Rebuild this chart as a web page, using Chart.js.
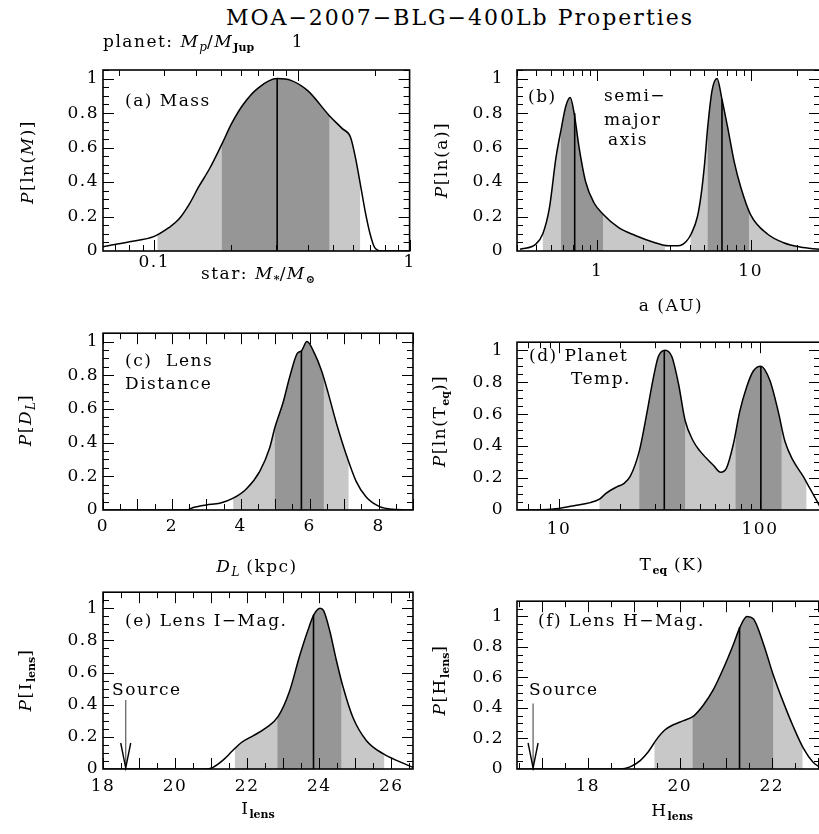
<!DOCTYPE html>
<html>
<head>
<meta charset="utf-8">
<title>MOA-2007-BLG-400Lb Properties</title>
<script src="https://cdn.jsdelivr.net/npm/chart.js@4.4.1/dist/chart.umd.min.js"></script>
<style>
  body { margin: 0; width: 819px; height: 834px; overflow: hidden; background: #fff; position: relative; font-family: 'DejaVu Serif', serif; }
  canvas { position: absolute; }
  .lbl { position: absolute; font-size: 17px; line-height: 1; white-space: pre; letter-spacing: 1.5px; color: #000; }
  .lbl sub { font-size: 11px; font-weight: bold; vertical-align: -4px; letter-spacing: 0; }
  .lbl sub.it { font-style: italic; font-weight: normal; font-size: 12px; }
  .title { font-size: 22px; letter-spacing: 2px; }
</style>
</head>
<body>
<canvas id="mass" width="416" height="260" style="left:0;top:30px"></canvas>
<canvas id="semi" width="409" height="260" style="left:412px;top:30px"></canvas>
<canvas id="dist" width="416" height="241" style="left:0;top:319px"></canvas>
<canvas id="temp" width="409" height="241" style="left:412px;top:319px"></canvas>
<canvas id="magI" width="416" height="256" style="left:0;top:578px"></canvas>
<canvas id="magH" width="409" height="256" style="left:412px;top:578px"></canvas>
<script>
'use strict';

// (a) lens star mass in solar masses
let massX = [0.063, 0.08, 0.1, 0.114, 0.125, 0.137, 0.149, 0.165, 0.184, 0.201, 0.223, 0.255, 0.303, 0.343, 0.399, 0.485, 0.545, 0.587, 0.614, 0.641, 0.67, 0.70, 0.73, 0.778, 1.0];
let massY = [0.025, 0.054, 0.085, 0.135, 0.185, 0.27, 0.37, 0.48, 0.62, 0.74, 0.85, 0.945, 1.0, 0.99, 0.93, 0.785, 0.71, 0.66, 0.54, 0.39, 0.23, 0.1, 0.02, 0, 0];
let massLight = [[0.103, 0.64]];
let massDark = [[0.184, 0.485]];
let massMedian = [[0.303, 1.0]];
let massTicks = [0.1, 1];
let planetPerStar = 2.74; // M_p/M_Jup for one solar mass of host
let planetTicks = [1];

// (b) semi-major axis in AU
let semiX = [0.314, 0.398, 0.442, 0.488, 0.538, 0.58, 0.624, 0.667, 0.707, 0.762, 0.841, 0.952, 1.10, 1.38, 1.77, 2.38, 2.9, 3.37, 3.8, 4.1, 4.5, 4.76, 5.0, 5.25, 5.6, 6.04, 6.5, 7.07, 7.8, 8.62, 10, 12.8, 16.4, 21, 28];
let semiY = [0.01, 0.04, 0.1, 0.25, 0.54, 0.7, 0.84, 0.89, 0.8, 0.6, 0.4, 0.28, 0.21, 0.135, 0.09, 0.048, 0.03, 0.03, 0.055, 0.1, 0.2, 0.33, 0.5, 0.72, 0.93, 1.0, 0.88, 0.72, 0.52, 0.37, 0.21, 0.1, 0.048, 0.023, 0.01];
let semiLight = [[0.442, 2.76], [4.06, 20]];
let semiDark = [[0.58, 1.09], [5.25, 9.75]];
let semiMedian = [[0.713, 0.8], [6.5, 0.88]];
let semiTicks = [1, 10];

// (c) lens distance in kpc
let distX = [0, 2.42, 2.62, 3.0, 3.39, 3.78, 4.16, 4.55, 4.84, 4.99, 5.23, 5.42, 5.64, 5.76, 5.92, 6.14, 6.34, 6.53, 6.77, 7.06, 7.35, 7.64, 8.03, 8.41, 9];
let distY = [0, 0, 0.015, 0.03, 0.04, 0.07, 0.125, 0.23, 0.37, 0.49, 0.64, 0.79, 0.93, 0.945, 1.0, 0.93, 0.83, 0.70, 0.52, 0.33, 0.17, 0.077, 0.02, 0.004, 0];
let distLight = [[3.78, 7.13]];
let distDark = [[4.99, 6.41]];
let distMedian = [[5.76, 0.945]];
let distTicks = [0, 2, 4, 6, 8];

// (d) planet equilibrium temperature in K
let tempX = [6.2, 8.04, 10, 12.2, 14.3, 15.9, 17.2, 19.4, 20.9, 22.6, 25.1, 27.3, 29.5, 31.2, 33.7, 36.4, 39.3, 42.4, 46.6, 50.2, 58.6, 63.7, 68, 73.6, 79.4, 85.8, 92.6, 101, 112, 123, 133, 146, 164, 177, 199];
let tempY = [0, 0.002, 0.01, 0.03, 0.046, 0.068, 0.106, 0.145, 0.164, 0.21, 0.37, 0.6, 0.83, 0.96, 1.0, 0.96, 0.79, 0.56, 0.43, 0.37, 0.28, 0.236, 0.26, 0.41, 0.62, 0.77, 0.87, 0.9, 0.81, 0.62, 0.43, 0.31, 0.21, 0.135, 0.02];
let tempLight = [[15.9, 170]];
let tempDark = [[25.1, 42.4], [75.6, 128]];
let tempMedian = [[33.4, 1.0], [101, 0.9]];
let tempTicks = [10, 100];

// (e) lens I magnitude
let magIX = [18, 20.82, 21.05, 21.33, 21.6, 21.84, 22.16, 22.53, 22.86, 23.17, 23.45, 23.68, 23.85, 24.02, 24.12, 24.29, 24.47, 24.66, 24.94, 25.31, 25.77, 26.24, 26.6];
let magIY = [0, 0, 0.01, 0.055, 0.115, 0.165, 0.206, 0.257, 0.327, 0.48, 0.70, 0.86, 0.96, 1.0, 0.985, 0.86, 0.68, 0.51, 0.317, 0.176, 0.095, 0.044, 0.01];
let magILight = [[21.66, 25.8]];
let magIDark = [[22.84, 24.61]];
let magIMedian = [[23.84, 0.96]];
let magITicks = [18, 20, 22, 24, 26];
let sourceI = [18.63, 0.43];

// (f) lens H magnitude
let magHX = [16.4, 18.7, 18.92, 19.14, 19.32, 19.5, 19.68, 19.86, 20.08, 20.3, 20.51, 20.73, 20.95, 21.17, 21.31, 21.46, 21.6, 21.82, 22.03, 22.25, 22.47, 22.69, 22.9, 23.05];
let magHY = [0, 0, 0.014, 0.055, 0.115, 0.196, 0.257, 0.29, 0.317, 0.347, 0.418, 0.52, 0.66, 0.82, 0.93, 1.0, 0.985, 0.82, 0.62, 0.44, 0.277, 0.135, 0.044, 0.01];
let magHLight = [[19.45, 22.67]];
let magHDark = [[20.28, 22.03]];
let magHMedian = [[21.3, 0.93]];
let magHTicks = [18, 20, 22];
let sourceH = [16.81, 0.43];

let yTicks = [0, 0.2, 0.4, 0.6, 0.8, 1];

let lightGray = '#c8c8c8';
let darkGray = '#969696';
let serif = "'DejaVu Serif', serif";

Chart.defaults.font.family = serif;
Chart.defaults.font.size = 17;
Chart.defaults.color = '#000';

// tick marks for a log axis (decades long, 2..9 short) or a linear one [major, minor]
function tickList(min, max, step) {
  let out = [];
  if (step === 'log') {
    for (let d = Math.floor(Math.log10(min)); d <= Math.ceil(Math.log10(max)); d++) {
      for (let n = 1; n <= 9; n++) {
        let v = n * Math.pow(10, d);
        if (v >= min * 0.9999 && v <= max * 1.0001) out.push({ v: v, len: n === 1 ? 11 : 6 });
      }
    }
  } else {
    let ratio = Math.round(step[0] / step[1]);
    for (let k = Math.ceil(min / step[1] - 1e-9); k * step[1] <= max + 1e-9; k++) {
      out.push({ v: k * step[1], len: k % ratio === 0 ? 11 : 6 });
    }
  }
  return out;
}

function panelPlugin(p) {
  return {
    id: 'panel',
    beforeDraw(chart) {
      // the original lettering is set wide
      chart.ctx.letterSpacing = '1.5px';
    },
    beforeDatasetsDraw(chart) {
      let ctx = chart.ctx;
      let area = chart.chartArea;
      let xs = chart.scales.x;
      let ys = chart.scales.y;
      let meta = chart.getDatasetMeta(0);
      let line = meta.dataset;
      let pts = meta.data;
      let base = ys.getPixelForValue(0);
      line.updateControlPoints(area, 'x');

      let shade = function (bands, color) {
        bands.forEach(b => {
          let x0 = xs.getPixelForValue(b[0]);
          let x1 = xs.getPixelForValue(b[1]);
          ctx.save();
          ctx.beginPath();
          ctx.rect(x0, area.top, x1 - x0, area.bottom - area.top);
          ctx.clip();
          ctx.beginPath();
          line.path(ctx);
          ctx.lineTo(pts[pts.length - 1].x, base);
          ctx.lineTo(pts[0].x, base);
          ctx.closePath();
          ctx.fillStyle = color;
          ctx.fill();
          ctx.restore();
        });
      };
      shade(p.light, lightGray);
      shade(p.dark, darkGray);
    },
    afterDraw(chart) {
      let ctx = chart.ctx;
      let a = chart.chartArea;
      let xs = chart.scales.x;
      let ys = chart.scales.y;
      ctx.save();
      ctx.strokeStyle = '#000';
      ctx.lineWidth = 1;
      ctx.beginPath();
      for (let k = 1; k * 0.05 <= ys.max + 1e-9; k++) {
        let py = Math.round(ys.getPixelForValue(k * 0.05)) + 0.5;
        let len = k % 4 === 0 ? 11 : 6;
        ctx.moveTo(a.left, py);
        ctx.lineTo(a.left + len, py);
        ctx.moveTo(a.right, py);
        ctx.lineTo(a.right - len, py);
      }
      tickList(xs.min, xs.max, p.step).forEach(t => {
        let px = Math.round(xs.getPixelForValue(t.v)) + 0.5;
        ctx.moveTo(px, a.bottom);
        ctx.lineTo(px, a.bottom - t.len);
        if (!p.planet) {
          ctx.moveTo(px, a.top);
          ctx.lineTo(px, a.top + t.len);
        }
      });
      if (p.planet) {
        tickList(xs.min * p.planet, xs.max * p.planet, 'log').forEach(t => {
          let px = Math.round(xs.getPixelForValue(t.v / p.planet)) + 0.5;
          ctx.moveTo(px, a.top);
          ctx.lineTo(px, a.top + t.len);
        });
      }
      ctx.stroke();

      if (p.planet) {
        ctx.font = '17px ' + serif;
        ctx.fillStyle = '#000';
        ctx.textAlign = 'center';
        ctx.textBaseline = 'middle';
        planetTicks.forEach(v => ctx.fillText(String(v), xs.getPixelForValue(v / p.planet), a.top - 27));
      }

      if (p.source) {
        let sx = xs.getPixelForValue(p.source[0]);
        let sy = ys.getPixelForValue(0);
        ctx.lineWidth = 1.4;
        ctx.beginPath();
        ctx.moveTo(sx - 5, sy - 26);
        ctx.lineTo(sx, sy - 1);
        ctx.lineTo(sx + 5, sy - 26);
        ctx.stroke();
      }

      ctx.lineWidth = 1.6;
      ctx.strokeRect(a.left, a.top, a.right - a.left, a.bottom - a.top);
      ctx.restore();
    }
  };
}

function makePanel(id, p) {
  let curve = p.x.map((x, i) => ({ x: x, y: p.y[i] }));
  let datasets = [{
    data: curve,
    borderColor: '#000',
    borderWidth: 1.5,
    pointRadius: 0,
    cubicInterpolationMode: 'monotone',
    fill: false
  }];
  p.medians.forEach(m => {
    datasets.push({
      data: [{ x: m[0], y: 0 }, { x: m[0], y: m[1] }],
      borderColor: '#000',
      borderWidth: 1.6,
      pointRadius: 0,
      fill: false
    });
  });
  if (p.source) {
    datasets.push({
      data: [{ x: p.source[0], y: p.source[1] }, { x: p.source[0], y: 0 }],
      borderColor: '#666',
      borderWidth: 1.3,
      pointRadius: 0,
      fill: false
    });
  }

  return new Chart(document.getElementById(id), {
    type: 'line',
    data: { datasets: datasets },
    options: {
      responsive: false,
      animation: false,
      events: [],
      layout: { autoPadding: false, padding: { top: p.padTop, right: p.padRight, left: 0, bottom: 0 } },
      plugins: { legend: { display: false }, tooltip: { enabled: false } },
      scales: {
        x: {
          type: p.step === 'log' ? 'logarithmic' : 'linear',
          min: p.xMin,
          max: p.xMax,
          grid: { display: false, drawTicks: false },
          border: { display: false },
          ticks: { padding: p.xPad, maxRotation: 0, autoSkip: false, callback: v => String(v) },
          afterBuildTicks: s => { s.ticks = p.xTicks.map(v => ({ value: v })); },
          afterFit: s => { s.height = p.xHeight; }
        },
        y: {
          type: 'linear',
          min: 0,
          max: p.yMax,
          grid: { display: false, drawTicks: false },
          border: { display: false },
          ticks: { padding: p.yPad, autoSkip: false, callback: v => String(v) },
          afterBuildTicks: s => { s.ticks = yTicks.map(v => ({ value: v })); },
          afterFit: s => { s.width = p.yWidth; }
        }
      }
    },
    plugins: [panelPlugin(p)]
  });
}

makePanel('mass', {
  x: massX, y: massY, light: massLight, dark: massDark, medians: massMedian,
  xMin: 0.063, xMax: 1, yMax: 1.05, step: 'log', xTicks: massTicks, planet: planetPerStar,
  padTop: 40, padRight: 3, yWidth: 103, xHeight: 39, xPad: 1, yPad: 4
});
makePanel('semi', {
  x: semiX, y: semiY, light: semiLight, dark: semiDark, medians: semiMedian,
  xMin: 0.314, xMax: 28.3, yMax: 1.05, step: 'log', xTicks: semiTicks,
  padTop: 40, padRight: 1, yWidth: 105, xHeight: 39, xPad: 10, yPad: 13
});
makePanel('dist', {
  x: distX, y: distY, light: distLight, dark: distDark, medians: distMedian,
  xMin: 0, xMax: 9, yMax: 1.05, step: [1, 0.5], xTicks: distTicks,
  padTop: 10, padRight: 3, yWidth: 103, xHeight: 50, xPad: 6, yPad: 4
});
makePanel('temp', {
  x: tempX, y: tempY, light: tempLight, dark: tempDark, medians: tempMedian,
  xMin: 6.18, xMax: 198.8, yMax: 1.05, step: 'log', xTicks: tempTicks,
  padTop: 10, padRight: 1, yWidth: 105, xHeight: 50, xPad: 9, yPad: 13
});
makePanel('magI', {
  x: magIX, y: magIY, light: magILight, dark: magIDark, medians: magIMedian, source: sourceI,
  xMin: 18, xMax: 26.6, yMax: 1.1, step: [1, 0.5], xTicks: magITicks,
  padTop: 10, padRight: 3, yWidth: 103, xHeight: 65, xPad: 7, yPad: 4
});
makePanel('magH', {
  x: magHX, y: magHY, light: magHLight, dark: magHDark, medians: magHMedian, source: sourceH,
  xMin: 16.46, xMax: 23.05, yMax: 1.1, step: [1, 0.5], xTicks: magHTicks,
  padTop: 10, padRight: 1, yWidth: 105, xHeight: 65, xPad: 7, yPad: 13
});

// text placed around the panels: html, x, y, anchor, extra class
function addLabel(html, x, y, anchor, cls) {
  let el = document.createElement('div');
  el.className = 'lbl' + (cls ? ' ' + cls : '');
  el.innerHTML = html;
  el.style.left = x + 'px';
  el.style.top = y + 'px';
  if (anchor === 'c') el.style.transform = 'translate(-50%, -50%)';
  else if (anchor === 'r') el.style.transform = 'translate(-50%, -50%) rotate(-90deg)';
  else el.style.transform = 'translate(0, -50%)';
  document.body.appendChild(el);
}

addLabel('MOA\u22122007\u2212BLG\u2212400Lb Properties', 460, 18, 'c', 'title');
addLabel('planet: <i>M</i><sub class="it">p</sub>/<i>M</i><sub>Jup</sub>', 103, 43, 'l');

addLabel('star: <i>M</i><sub>*</sub>/<i>M</i><sub>\u2299</sub>', 258, 275, 'c');
addLabel('a (AU)', 671, 305, 'c');
addLabel('<i>D</i><sub class="it">L</sub> (kpc)', 257, 568, 'c');
addLabel('T<sub>eq</sub> (K)', 672, 566, 'c');
addLabel('I<sub>lens</sub>', 258, 810, 'c');
addLabel('H<sub>lens</sub>', 672, 812, 'c');

addLabel('<i>P</i>[ln(<i>M</i>)]', 27, 162, 'r');
addLabel('<i>P</i>[ln(a)]', 441, 160, 'r');
addLabel('<i>P</i>[<i>D</i><sub class="it">L</sub>]', 27, 420, 'r');
addLabel('<i>P</i>[ln(T<sub>eq</sub>)]', 441, 421, 'r');
addLabel('<i>P</i>[I<sub>lens</sub>]', 27, 680, 'r');
addLabel('<i>P</i>[H<sub>lens</sub>]', 441, 680, 'r');

addLabel('(a) Mass', 125, 100, 'l');
addLabel('(b)', 528, 96, 'l');
addLabel('semi\u2212', 604, 95, 'l');
addLabel('major', 604, 119, 'l');
addLabel('axis', 608, 139, 'l');
addLabel('(c)  Lens', 125, 360, 'l');
addLabel('Distance', 125, 383, 'l');
addLabel('(d) Planet', 529, 355, 'l');
addLabel('Temp.', 571, 378, 'l');
addLabel('(e) Lens I\u2212Mag.', 125, 620, 'l');
addLabel('(f) Lens H\u2212Mag.', 538, 620, 'l');
addLabel('Source', 112, 689, 'l');
addLabel('Source', 529, 689, 'l');
</script>
</body>
</html>
